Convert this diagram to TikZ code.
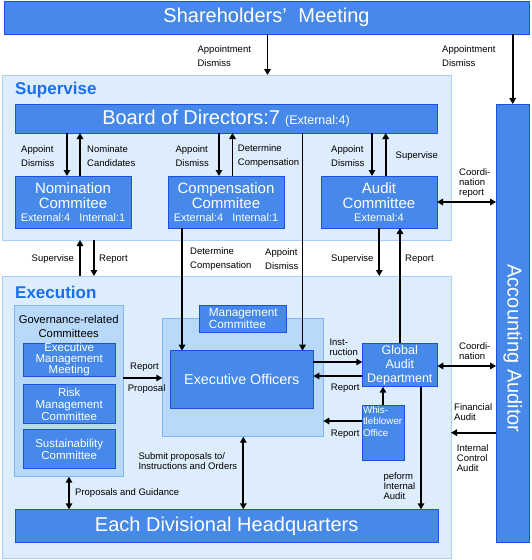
\documentclass[tikz,border=0pt]{standalone}
\usepackage{fontspec}
\usepackage{graphicx}
\setmainfont{Liberation Sans}
\usetikzlibrary{arrows.meta}
\definecolor{boxfill}{HTML}{4789E8}
\definecolor{boxline}{HTML}{1F4FE0}
\definecolor{regfill}{HTML}{DDEDFC}
\definecolor{regline}{HTML}{A9CFF7}
\definecolor{subfill}{HTML}{B9D9FA}
\definecolor{subline}{HTML}{7DB6F2}
\definecolor{titleblue}{HTML}{1A6FEF}
\newcommand\myfs[2]{\fontsize{#1}{#2}\selectfont}
\begin{document}
\begin{tikzpicture}[x=1pt,y=-1pt,
  region/.style={draw=regline, fill=regfill, line width=1pt, inner sep=0pt, outer sep=0pt},
  subreg/.style={draw=subline, fill=subfill, line width=1pt, inner sep=0pt, outer sep=0pt},
  bluebox/.style={draw=boxline, fill=boxfill, line width=1pt, text=white, inner sep=0pt, outer sep=0pt, align=center},
  comm/.style={bluebox, minimum width=116pt, minimum height=52pt, font=\myfs{15}{15}},
  inbox/.style={bluebox, minimum width=91.7pt, minimum height=38.7pt, font=\myfs{11.5}{12}},
  lbl/.style={font=\myfs{9.5}{14}, align=left, anchor=west, inner sep=0pt},
  tight/.style={lbl, font=\myfs{9.5}{10}},
  arr/.style={line width=1.8pt, -{Triangle[length=6pt,width=6.5pt]}},
  darr/.style={line width=1.8pt, {Triangle[length=6pt,width=6.5pt]}-{Triangle[length=6pt,width=6.5pt]}},
  rtitle/.style={font=\bfseries\myfs{17}{17}, text=titleblue, anchor=west, inner sep=0pt},
]
\useasboundingbox (0,0) rectangle (531,560);
% helper columns / rows
\coordinate (c67) at (67,0);
\coordinate (c80) at (80,0);
\coordinate (c94) at (94,0);
\coordinate (c69) at (69,0);
\coordinate (c182) at (182,0);
\coordinate (c219) at (219,0);
\coordinate (c232) at (232.5,0);
\coordinate (c243) at (243.3,0);
\coordinate (c267) at (267.5,0);
\coordinate (c302) at (302.5,0);
\coordinate (c372) at (372,0);
\coordinate (c379) at (379.3,0);
\coordinate (c386) at (385.7,0);
\coordinate (c400) at (400,0);
\coordinate (c421) at (421,0);
\coordinate (r362) at (0,362);
\coordinate (r366) at (0,366);
\coordinate (r376) at (0,376);
\coordinate (r378) at (0,378);
\coordinate (r421) at (0,421);
\coordinate (r433) at (0,432.7);

% regions
\node[region, minimum width=449pt, minimum height=282pt] (exec) at (226.5,417) {};
\node[region, minimum width=449pt, minimum height=165pt] (sup) at (226.5,157.5) {};
\node[rtitle] (suptitle) at (15,90) {Supervise};
\node[rtitle] (exectitle) at (15,292) {Execution};

% top
\node[bluebox, minimum width=525pt, minimum height=33pt, font=\myfs{20}{20}] (sh) at (266.5,17.5) {Shareholders’\hspace{6pt} Meeting};
\node[bluebox, minimum width=422pt, minimum height=29pt, font=\myfs{20}{20}] (bod) at (226,118.5) {Board of Directors:7\hspace{5pt}{\myfs{12.5}{12.5}(External:4)}};
\node[comm] (nom) at (73,202) {Nomination\\Commitee\\[-2pt]{\myfs{11}{11}External:4\hspace{9pt}Internal:1}};
\node[comm] (comp) at (226,202) {Compensation\\Commitee\\[-2pt]{\myfs{11}{11}External:4\hspace{9pt}Internal:1}};
\node[comm] (audit) at (379,202) {Audit\\Committee\\[-2pt]{\myfs{11}{11}External:4}};
\node[bluebox, minimum width=33.3pt, minimum height=438pt, font=\myfs{20}{20}] (aa) at (512.7,323) {\rotatebox{-90}{\hspace*{51pt}Accounting Auditor}};

% execution
\node[subreg, minimum width=109.3pt, minimum height=171pt] (gov) at (68.7,391.2) {};
\node[font=\myfs{11.3}{14}, align=center, inner sep=0pt] (govtitle) at (68.7,326) {Governance-related\\Committees};
\node[inbox, minimum height=33.4pt, font=\myfs{11.5}{11}] (emm) at (69.2,360) {Executive\\Management\\Meeting};
\node[inbox] (rmc) at (69.2,404.3) {Risk\\Management\\Committee};
\node[inbox] (sc) at (69.2,449.3) {Sustainability\\Committee};

\node[subreg, minimum width=161pt, minimum height=118.4pt] (eoreg) at (242.8,377.5) {};
\node[bluebox, minimum width=86.7pt, minimum height=27.3pt, font=\myfs{11.8}{11.7}, align=left] (mc) at (243.3,318.7) {Management\\Committee};
\node[bluebox, minimum width=143.3pt, minimum height=58.3pt, font=\myfs{14.3}{14.3}] (eo) at (241.7,379.8) {Executive Officers};
\node[bluebox, minimum width=75pt, minimum height=43.4pt, font=\myfs{12.5}{14}] (gad) at (399.8,365) {Global\\Audit\\Department};
\node[bluebox, minimum width=42pt, minimum height=55pt, align=left] (wb) at (383,432.5) {\parbox[c][53pt][t]{40pt}{\raggedright\myfs{9.8}{11.3}\vspace*{0.5pt}Whis-\\tleblower\\Office}};
\node[bluebox, minimum width=423.3pt, minimum height=33.4pt, font=\myfs{20}{20}] (edh) at (226.7,526) {Each Divisional Headquarters};

% connectors
\draw[arr] (sh.south -| c267) -- (sup.north -| c267);
\draw[arr] (sh.south -| aa.north) -- (aa.north);
\draw[arr] (bod.south -| c67) -- (nom.north -| c67);
\draw[arr] (nom.north -| c80) -- (bod.south -| c80);
\draw[arr] (bod.south -| c219) -- (comp.north -| c219);
\draw[arr] (comp.north -| c232) -- (bod.south -| c232);
\draw[arr] (bod.south -| c372) -- (audit.north -| c372);
\draw[arr] (audit.north -| c386) -- (bod.south -| c386);
\draw[arr] (bod.south -| c302) -- (eo.north -| c302);
\draw[darr] (audit.east) -- (aa.west |- audit.east);
\draw[arr] (exec.north -| c80) -- (sup.south -| c80);
\draw[arr] (sup.south -| c94) -- (exec.north -| c94);
\draw[arr] (comp.south -| c182) -- (eo.north -| c182);
\draw[arr] (audit.south -| c379) -- (exec.north -| c379);
\draw[arr] (gad.north -| c400) -- (audit.south -| c400);
\draw[arr] (gov.east |- r378) -- (eoreg.west |- r378);
\draw[arr] (eo.east |- r362) -- (gad.west |- r362);
\draw[arr] (gad.west |- r376) -- (eo.east |- r376);
\draw[arr] (wb.north) -- (gad.south -| wb.north);
\draw[arr] (wb.west |- r421) -- (eoreg.east |- r421);
\draw[arr] (gad.south -| c421) -- (edh.north -| c421);
\draw[darr] (gad.east |- r366) -- (aa.west |- r366);
\draw[arr] (aa.west |- r433) -- (exec.east |- r433);
\draw[darr] (gov.south -| c69) -- (edh.north -| c69);
\draw[darr] (eoreg.south -| c243) -- (edh.north -| c243);

% labels
\node[lbl] (l1) at (197.4,56) {Appointment\\Dismiss};
\node[lbl] (l2) at (442,56) {Appointment\\Dismiss};
\node[lbl] (l3) at (21,156) {Appoint\\Dismiss};
\node[lbl] (l4) at (87,156) {Nominate\\Candidates};
\node[lbl] (l5) at (175.4,156) {Appoint\\Dismiss};
\node[lbl] (l6) at (237.7,156) {Determine\\Compensation};
\node[lbl] (l7) at (331,156) {Appoint\\Dismiss};
\node[lbl] (l8) at (395.5,156) {Supervise};
\node[tight] (l9) at (459,183.5) {Coordi-\\nation\\report};
\node[lbl] (l10) at (31.5,259) {Supervise};
\node[lbl] (l11) at (99,259) {Report};
\node[lbl] (l12) at (190,259) {Determine\\Compensation};
\node[lbl] (l13) at (265,259) {Appoint\\Dismiss};
\node[lbl] (l14) at (331,259) {Supervise};
\node[lbl] (l15) at (405,259) {Report};
\node[lbl] (l16) at (130,367.7) {Report};
\node[lbl] (l17) at (127.7,389.3) {Proposal};
\node[tight] (l18) at (329.3,347.7) {Inst-\\ruction};
\node[lbl] (l19) at (330.7,388.7) {Report};
\node[lbl] (l20) at (330.7,434) {Report};
\node[tight] (l21) at (459,350.7) {Coordi-\\nation};
\node[tight] (l22) at (454,412.5) {Financial\\Audit};
\node[tight] (l23) at (456.7,458.3) {Internal\\Control\\Audit};
\node[tight] (l24) at (383.3,485.8) {peform\\Internal\\Audit};
\node[tight] (l25) at (138.3,460.7) {Submit proposals to/\\Instructions and Orders};
\node[lbl] (l26) at (75,493.3) {Proposals and Guidance};
\end{tikzpicture}
\end{document}
